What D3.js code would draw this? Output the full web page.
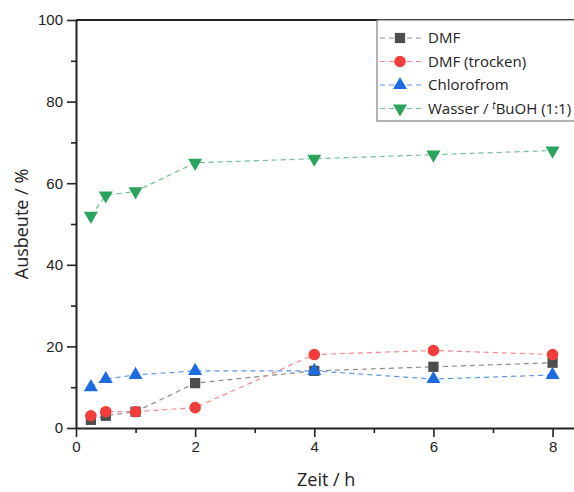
<!DOCTYPE html>
<html>
<head>
<meta charset="utf-8">
<script src="https://cdn.jsdelivr.net/npm/d3@7"></script>
<style>
  body { margin: 0; background: #fff; }
  svg { display: block; font-family: "Open Sans", "Noto Sans", sans-serif; }
</style>
</head>
<body>
<div id="chart"></div>
<script>
// time points (h)
const times = [0.25, 0.5, 1, 2, 4, 6, 8];
// yields (%)
const dmf = [2, 3, 4, 11, 14, 15, 16];
const dmfDry = [3, 4, 4, 5, 18, 19, 18];
const chloro = [10, 12, 13, 14, 14, 12, 13];
const water = [52, 57, 58, 65, 66, 67, 68];

const xTicks = [0, 2, 4, 6, 8];
const yTicks = [0, 20, 40, 60, 80, 100];

const series = [
  { name: "DMF", values: dmf, color: "#4d4d4d", line: "#8a8a8a", symbol: d3.symbolSquare, size: 105, rot: 0 },
  { name: "DMF (trocken)", values: dmfDry, color: "#f23d3d", line: "#f58a8a", symbol: d3.symbolCircle, size: 105, rot: 0 },
  { name: "Chlorofrom", values: chloro, color: "#1c6ce0", line: "#5b95ea", symbol: d3.symbolTriangle, size: 85, rot: 0 },
  { name: "Wasser / ", values: water, color: "#2aa45c", line: "#6cc08c", symbol: d3.symbolTriangle, size: 85, rot: 180 }
];

const W = 574, H = 492;
const margin = { top: 20, right: 0, bottom: 64, left: 76 };
const width = W - margin.left - margin.right,
  height = H - margin.top - margin.bottom;

const svg = d3.select("#chart").append("svg")
  .attr("width", W)
  .attr("height", H);

const g = svg.append("g")
  .attr("transform", "translate(" + margin.left + "," + margin.top + ")");

const x = d3.scaleLinear().domain([0, 8.36]).range([0, width]);
const y = d3.scaleLinear().domain([0, 100]).range([height, 0]);

// minor ticks
g.append("g")
  .attr("transform", "translate(0," + height + ")")
  .call(d3.axisBottom(x).tickValues([1, 3, 5, 7]).tickSize(5).tickFormat(""))
  .call(s => s.select(".domain").remove());
g.append("g")
  .call(d3.axisLeft(y).tickValues([10, 30, 50, 70, 90]).tickSize(5).tickFormat(""))
  .call(s => s.select(".domain").remove());

// X axis
const xa = g.append("g")
  .attr("transform", "translate(0," + height + ")")
  .call(d3.axisBottom(x).tickValues(xTicks).tickSize(9).tickSizeOuter(0).tickPadding(4));
// Y axis
const ya = g.append("g")
  .call(d3.axisLeft(y).tickValues(yTicks).tickSize(9).tickSizeOuter(0).tickPadding(4));

[xa, ya].forEach(a => {
  a.selectAll("text").style("font-size", "15px").attr("fill", "#222");
  a.select(".domain").attr("stroke-width", 2).attr("stroke", "#222");
});
g.selectAll(".tick line").attr("stroke-width", 1.6).attr("stroke", "#222");

// top frame line
g.append("line")
  .attr("x1", 0).attr("x2", width)
  .attr("y1", 0).attr("y2", 0)
  .attr("stroke", "#222").attr("stroke-width", 2);

// axis titles
svg.append("text")
  .attr("x", margin.left + x(4.2)).attr("y", 486)
  .attr("text-anchor", "middle")
  .style("font-size", "18px").attr("fill", "#222")
  .text("Zeit / h");
svg.append("text")
  .attr("transform", "translate(28," + (margin.top + y(50)) + ") rotate(-90)")
  .attr("text-anchor", "middle")
  .style("font-size", "18px").attr("fill", "#222")
  .text("Ausbeute / %");

const line = d3.line()
  .x(d => x(d[0]))
  .y(d => y(d[1]));

series.forEach(s => {
  const pts = times.map((t, i) => [t, s.values[i]]);
  g.append("path")
    .datum(pts)
    .attr("fill", "none")
    .attr("stroke", s.line)
    .attr("stroke-width", 1.2)
    .attr("stroke-dasharray", "5,4")
    .attr("d", line);
  g.selectAll(null)
    .data(pts)
    .enter().append("path")
    .attr("d", d3.symbol().type(s.symbol).size(s.size))
    .attr("transform", d => "translate(" + x(d[0]) + "," + y(d[1]) + ") rotate(" + s.rot + ")")
    .attr("fill", s.color);
});

// legend
const lg = svg.append("g").attr("transform", "translate(377,20)");
lg.append("rect")
  .attr("x", 0).attr("y", 0)
  .attr("width", 210).attr("height", 101)
  .attr("fill", "#fff")
  .attr("stroke", "#666").attr("stroke-width", 1);
series.forEach((s, i) => {
  const row = lg.append("g").attr("transform", "translate(0," + (18 + i * 23.5) + ")");
  row.append("line")
    .attr("x1", 3).attr("x2", 46)
    .attr("stroke", s.line).attr("stroke-width", 1.2)
    .attr("stroke-dasharray", "5,4");
  row.append("path")
    .attr("d", d3.symbol().type(s.symbol).size(s.size))
    .attr("transform", "translate(23,0) rotate(" + s.rot + ")")
    .attr("fill", s.color);
  const t = row.append("text")
    .attr("x", 51).attr("y", 5)
    .style("font-size", "15px").attr("fill", "#222")
    .text(s.name);
  if (i === 3) {
    t.append("tspan").attr("dy", -5).style("font-size", "10px").style("font-style", "italic").text("t");
    t.append("tspan").attr("dy", 5).text("BuOH (1:1)");
  }
});
</script>
</body>
</html>
